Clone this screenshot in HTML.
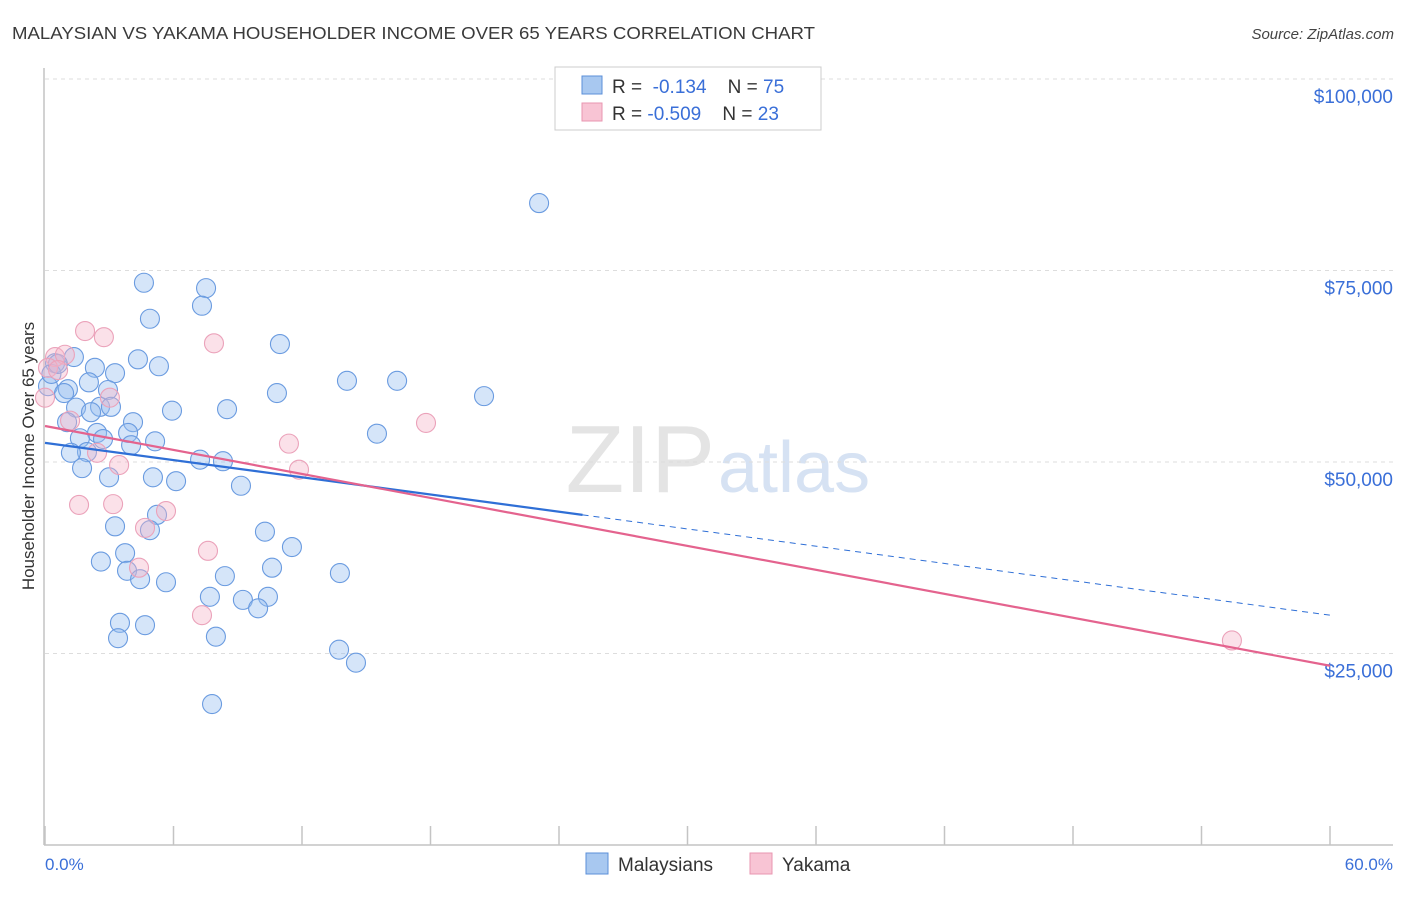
<!DOCTYPE html>
<html><head><meta charset="utf-8"><style>
body{margin:0;background:#fff;font-family:"Liberation Sans",sans-serif;}
svg text{font-family:"Liberation Sans",sans-serif;}
</style></head><body>
<svg id="chart" width="1406" height="892" xmlns="http://www.w3.org/2000/svg">
<text x="12" y="39" font-size="17.5" fill="#3a3a3a" textLength="803" lengthAdjust="spacingAndGlyphs">MALAYSIAN VS YAKAMA HOUSEHOLDER INCOME OVER 65 YEARS CORRELATION CHART</text>
<text x="1394" y="39" font-size="15" fill="#444" font-style="italic" text-anchor="end">Source: ZipAtlas.com</text>
<text x="715" y="492" font-size="96" fill="#e4e4e4" text-anchor="end" font-family="Liberation Serif">ZIP</text>
<text x="718" y="492" font-size="72" fill="#d6e2f3">atlas</text>
<g id="grid"></g>
<line x1="44" y1="68" x2="44" y2="845" stroke="#c4c4c4" stroke-width="1.5"/>
<line x1="44" y1="845" x2="1393" y2="845" stroke="#c4c4c4" stroke-width="1.5"/>
<text transform="translate(34,456) rotate(-90)" font-size="17" fill="#333" text-anchor="middle">Householder Income Over 65 years</text>
<text x="45" y="870" font-size="17" fill="#3a6fd8">0.0%</text>
<text x="1393" y="870" font-size="17" fill="#3a6fd8" text-anchor="end">60.0%</text>
<g id="marks"></g>
<g>
<rect x="555" y="67" width="266" height="63" fill="#fff" stroke="#ccc"/>
<rect x="582" y="76" width="20" height="18" fill="#a8c8f0" stroke="#5b8fd8"/>
<rect x="582" y="103" width="20" height="18" fill="#f8c4d4" stroke="#e896b0"/>
<text x="612" y="93" font-size="19" fill="#333">R = <tspan fill="#3a6fd8">&#160;-0.134</tspan>&#160;&#160;&#160;&#160;N = <tspan fill="#3a6fd8">75</tspan></text>
<text x="612" y="120" font-size="19" fill="#333">R = <tspan fill="#3a6fd8">-0.509</tspan>&#160;&#160;&#160;&#160;N = <tspan fill="#3a6fd8">23</tspan></text>
</g>
<g><rect x="586" y="853" width="22" height="21" fill="#a8c8f0" stroke="#5b8fd8"/><text x="618" y="871" font-size="19" fill="#333">Malaysians</text></g>
<g><rect x="750" y="853" width="22" height="21" fill="#f8c4d4" stroke="#e896b0"/><text x="782" y="871" font-size="19" fill="#333">Yakama</text></g>
</svg>
<script>
const yTicks=[25000,50000,75000,100000];
const yTickLabels=["$25,000","$50,000","$75,000","$100,000"];
const xTicks=[0,6,12,18,24,30,36,42,48,54,60];
const malX=[23.07,4.62,7.52,7.33,4.90,10.97,1.35,0.47,4.34,5.32,2.33,3.27,14.10,16.44,2.05,0.14,1.07,2.94,10.83,20.50,0.89,2.57,3.08,1.45,2.15,5.93,8.50,4.11,1.03,15.50,2.43,3.88,5.14,1.63,2.71,4.02,1.96,1.21,7.24,8.31,1.73,5.04,2.99,6.12,9.15,5.23,4.90,3.27,10.27,11.53,2.61,3.74,3.83,10.60,13.77,8.40,4.44,5.65,7.70,9.24,10.41,9.95,3.50,4.67,3.41,7.98,13.73,14.52,7.80,0.3,0.6];
const malY=[83.8,73.4,72.7,70.4,68.7,65.4,63.7,62.9,63.4,62.5,62.3,61.6,60.6,60.6,60.4,59.9,59.5,59.4,59.0,58.6,59.0,57.2,57.2,57.1,56.5,56.7,56.9,55.2,55.2,53.7,53.8,53.8,52.7,53.1,53.0,52.2,51.3,51.2,50.3,50.1,49.2,48.0,48.0,47.5,46.9,43.1,41.1,41.6,40.9,38.9,37.0,38.1,35.8,36.2,35.5,35.1,34.7,34.3,32.4,32.0,32.4,30.9,29.0,28.7,27.0,27.2,25.5,23.8,18.4,61.5,62.8];
const yakX=[1.87,2.75,7.89,0.47,0.93,0.14,0.61,3.03,1.17,11.39,17.79,2.43,3.46,11.86,1.59,3.18,5.65,4.67,7.61,4.39,7.33,55.42,0];
const yakY=[67.1,66.3,65.5,63.7,64.0,62.3,62.0,58.4,55.4,52.4,55.1,51.2,49.6,49.0,44.4,44.5,43.6,41.4,38.4,36.2,30.0,26.7,58.4];
const malTrend=[[0,52.5],[25.1,43.1],[60,30.0]];
const yakTrend=[[0,54.7],[60,23.4]];
const NS="http://www.w3.org/2000/svg";
const sx=v=>45+v/60*1285;
const sy=v=>845-v/25000*191.5;
const syk=v=>sy(v*1000);
function mk(tag,attrs,parent){const e=document.createElementNS(NS,tag);for(const k in attrs)e.setAttribute(k,attrs[k]);parent.appendChild(e);return e;}
const grid=document.getElementById('grid');
yTicks.forEach((t,i)=>{
  const l=mk('line',{x1:45,x2:1393,y1:sy(t),y2:sy(t),stroke:'#ddd','stroke-dasharray':'4,4'},grid);
  
  
  const tx=mk('text',{x:1393,y:sy(t)+24,'font-size':19,fill:'#3a6fd8','text-anchor':'end'},grid);
  tx.textContent=yTickLabels[i];
  
  
});
const lg=mk('line',{x1:45,x2:1393,y1:79,y2:79,stroke:'#ddd','stroke-dasharray':'4,4'},grid);


xTicks.forEach(t=>{
  const l=mk('line',{x1:sx(t),x2:sx(t),y1:826,y2:845,stroke:'#c4c4c4','stroke-width':1.5},grid);
  
  
});
const marks=document.getElementById('marks');
malX.forEach((x,i)=>{
  const c=mk('circle',{cx:sx(x),cy:syk(malY[i]),r:9.5,fill:'rgba(150,190,240,0.4)',stroke:'#6a9be0','stroke-width':1.1},marks);
  
  
});
yakX.forEach((x,i)=>{
  const c=mk('circle',{cx:sx(x),cy:syk(yakY[i]),r:9.5,fill:'rgba(246,180,200,0.4)',stroke:'#eba2ba','stroke-width':1.1},marks);
  
  
});
const b1=mk('line',{x1:sx(malTrend[0][0]),y1:syk(malTrend[0][1]),x2:sx(malTrend[1][0]),y2:syk(malTrend[1][1]),stroke:'#2f6fd6','stroke-width':2.2},marks);


const b2=mk('line',{x1:sx(malTrend[1][0]),y1:syk(malTrend[1][1]),x2:sx(malTrend[2][0]),y2:syk(malTrend[2][1]),stroke:'#2f6fd6','stroke-width':1,'stroke-dasharray':'6,5'},marks);


const p1=mk('line',{x1:sx(yakTrend[0][0]),y1:syk(yakTrend[0][1]),x2:sx(yakTrend[1][0]),y2:syk(yakTrend[1][1]),stroke:'#e4638e','stroke-width':2.2},marks);


</script>
</body></html>
